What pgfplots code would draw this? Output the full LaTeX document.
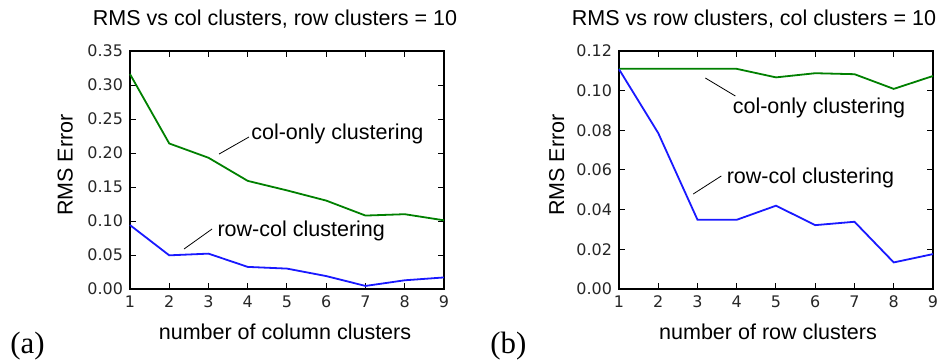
\documentclass[border=0pt]{standalone}
\usepackage{pgfplots}
\pgfplotsset{compat=1.18}
\usepackage{fontspec}
\setmainfont{Liberation Sans}
\newfontfamily\serifa{Liberation Serif}
\newfontfamily\tickfont{DejaVu Sans}
\definecolor{mgreen}{rgb}{0,0.5,0}
\definecolor{mblue}{rgb}{0.1,0.1,1}
\newcommand{\lbl}{\fontsize{10.8}{13}\selectfont}
\pgfplotsset{mystyle/.style={
  scale only axis, width=157bp, height=119bp,
  xmin=1, xmax=9, xtick={1,...,9}, ymin=0,
  tick align=inside, major tick length=3bp,
  axis line style={line width=0.6bp, black},
  every tick/.style={black, line width=0.5bp},
  tick label style={font=\tickfont\fontsize{8}{9}\selectfont, black!85},
  /pgf/number format/assume math mode=true,
  yticklabel style={/pgf/number format/.cd, fixed, fixed zerofill, precision=2},
  clip=false,
}}
\begin{document}
\begin{tikzpicture}
\path[use as bounding box] (0,0) rectangle (470bp,181bp);
% ---------- (a)
\begin{axis}[mystyle, at={(65bp,36.5bp)}, anchor=south west,
  ymax=0.35, ytick={0,0.05,...,0.351}]
\addplot[mgreen, line width=0.9bp] coordinates {
 (1,0.316) (2,0.214) (3,0.193) (4,0.159) (5,0.145) (6,0.130) (7,0.108) (8,0.110) (9,0.101)};
\addplot[mblue, line width=0.9bp] coordinates {
 (1,0.094) (2,0.0495) (3,0.052) (4,0.0325) (5,0.030) (6,0.019) (7,0.0045) (8,0.0128) (9,0.017)};
\draw[black, line width=0.4bp] (axis cs:3.27,0.1985) -- (axis cs:4.03,0.2235);
\node[anchor=west, inner sep=0, font=\lbl] at (axis cs:4.08,0.228) {col-only clustering};
\draw[black, line width=0.4bp] (axis cs:2.376,0.0588) -- (axis cs:3.09,0.0882);
\node[anchor=west, inner sep=0, font=\lbl] at (axis cs:3.22,0.0853) {row-col clustering};
\end{axis}
% ---------- (b)
\begin{axis}[mystyle, at={(309.5bp,36.5bp)}, anchor=south west,
  ymax=0.12, ytick={0,0.02,...,0.121}]
\addplot[mgreen, line width=0.9bp] coordinates {
 (1,0.111) (2,0.111) (3,0.111) (4,0.111) (5,0.1067) (6,0.1088) (7,0.1083) (8,0.1009) (9,0.1074)};
\addplot[mblue, line width=0.9bp] coordinates {
 (1,0.1108) (2,0.0786) (3,0.0349) (4,0.0349) (5,0.042) (6,0.0322) (7,0.0339) (8,0.0134) (9,0.0176)};
\draw[black, line width=0.4bp] (axis cs:3.198,0.1064) -- (axis cs:3.965,0.0973);
\node[anchor=west, inner sep=0, font=\lbl] at (axis cs:3.89,0.0913) {col-only clustering};
\draw[black, line width=0.4bp] (axis cs:2.891,0.0479) -- (axis cs:3.607,0.0570);
\node[anchor=west, inner sep=0, font=\lbl] at (axis cs:3.735,0.056) {row-col clustering};
\end{axis}
% ---------- texts
\node[anchor=base, inner sep=0, font=\lbl] at (137.5bp,168bp) {RMS vs col clusters, row clusters = 10};
\node[anchor=base, inner sep=0, font=\lbl] at (377bp,168bp) {RMS vs row clusters, col clusters = 10};
\node[anchor=base, inner sep=0, rotate=90, font=\lbl] at (36.3bp,98.5bp) {RMS Error};
\node[anchor=base, inner sep=0, rotate=90, font=\lbl] at (282bp,98.5bp) {RMS Error};
\node[anchor=base, inner sep=0, font=\lbl] at (142.5bp,11.5bp) {number of column clusters};
\node[anchor=base, inner sep=0, font=\lbl] at (384bp,11.5bp) {number of row clusters};
\node[anchor=base west, inner sep=0, font=\serifa\fontsize{15.5}{18}\selectfont] at (5bp,4.5bp) {(a)};
\node[anchor=base west, inner sep=0, font=\serifa\fontsize{15.5}{18}\selectfont] at (245bp,4.5bp) {(b)};
\end{tikzpicture}
\end{document}
